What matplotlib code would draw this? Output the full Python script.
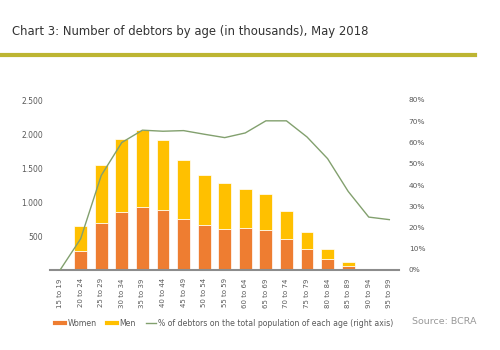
import matplotlib
matplotlib.use("Agg")
import matplotlib.pyplot as plt
from matplotlib.lines import Line2D
import numpy as np

age_groups = ["15 to 19", "20 to 24", "25 to 29", "30 to 34", "35 to 39", "40 to 44",
              "45 to 49", "50 to 54", "55 to 59", "60 to 64", "65 to 69", "70 to 74",
              "75 to 79", "80 to 84", "85 to 89", "90 to 94", "95 to 99"]
women = [0, 279, 687, 857, 926, 878, 756, 669, 600, 615, 581, 454, 307, 165, 59, 5, 0]
men = [0, 364, 853, 1065, 1140, 1039, 868, 731, 673, 570, 531, 419, 253, 138, 62, 8, 1]
pct_debtors = [0.0, 14.7, 44.5, 60.0, 65.8, 65.3, 65.6, 63.9, 62.3, 64.5, 70.2, 70.2,
               62.6, 52.4, 37.0, 24.9, 23.7]
left_ticks = [500, 1000, 1500, 2000, 2500]
left_tick_labels = ["500", "1.000", "1.500", "2.000", "2.500"]
right_ticks = [0, 10, 20, 30, 40, 50, 60, 70, 80]

C_WOMEN = "#EE7D31"
C_MEN = "#FFC000"
C_LINE = "#82A06E"
C_TEXT = "#595959"

fig = plt.figure(figsize=(5, 3.5), dpi=100)
fig.patch.set_facecolor("white")

fig.text(12 / 500, 1 - 31 / 350, "Chart 3: Number of debtors by age (in thousands), May 2018",
         fontsize=8.4, color="#333333", va="center", ha="left", family="DejaVu Sans")
fig.add_artist(Line2D([0, 475 / 500], [1 - 55 / 350, 1 - 55 / 350], color="#BDB532",
                      linewidth=3, transform=fig.transFigure))

ax = fig.add_axes([50 / 500, 1 - 270 / 350, 349 / 500, 170 / 350])
x = np.arange(len(age_groups))
ax.bar(x, women, width=0.62, color=C_WOMEN, edgecolor="white", linewidth=0.5, label="Women")
ax.bar(x, men, width=0.62, bottom=women, color=C_MEN, edgecolor="white", linewidth=0.5, label="Men")
ax.set_xlim(-0.49, 16.47)
ax.set_ylim(0, 2500)
ax.set_yticks(left_ticks)
ax.set_yticklabels(left_tick_labels)
ax.set_xticks(x)
ax.set_xticklabels(age_groups, rotation=90)
ax.tick_params(axis="x", length=0, labelsize=5, colors=C_TEXT, pad=6)
ax.tick_params(axis="y", length=0, labelsize=5.5, colors=C_TEXT, pad=5)
for s in ["top", "right", "left"]:
    ax.spines[s].set_visible(False)
ax.spines["bottom"].set_color("#8C8C8C")
ax.spines["bottom"].set_linewidth(1.5)
ax.set_zorder(1)
ax.patch.set_visible(False)

ax2 = ax.twinx()
ax2.plot(x, pct_debtors, color=C_LINE, linewidth=1.0)
ax2.set_ylim(0, 80)
ax2.set_yticks(right_ticks)
ax2.set_yticklabels([f"{v}%" for v in right_ticks])
ax2.tick_params(axis="y", length=0, labelsize=5.3, colors=C_TEXT, pad=7)
for s in ["top", "right", "left", "bottom"]:
    ax2.spines[s].set_visible(False)
ax2.set_zorder(2)

handles = [Line2D([], [], color=C_WOMEN, linewidth=3),
           Line2D([], [], color=C_MEN, linewidth=3),
           Line2D([], [], color=C_LINE, linewidth=1)]
labels = ["Women", "Men", "% of debtors on the total population of each age (right axis)"]
fig.legend(handles, labels, loc="center left", bbox_to_anchor=(48 / 500, 1 - 323 / 350),
           ncol=3, frameon=False, fontsize=5.6, handlelength=1.3, handletextpad=0.3,
           columnspacing=1.3, labelcolor=C_TEXT)

fig.text(412 / 500, 1 - 322 / 350, "Source: BCRA", fontsize=6.8, color="#999999",
         va="center", ha="left")

fig.savefig("out.png", dpi=100)
